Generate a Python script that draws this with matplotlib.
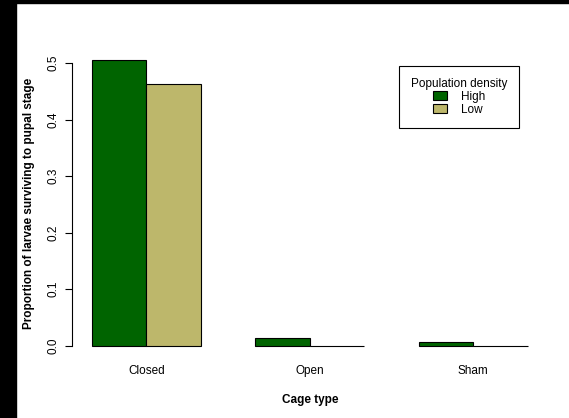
import matplotlib.pyplot as plt
from matplotlib.patches import Rectangle
import numpy as np

# --- Data ---
cages = ['Closed', 'Open', 'Sham']
densities = ['High', 'Low']
high_vals = [0.505, 0.014, 0.007]
low_vals = [0.463, 0.0, 0.0]
bar_colors = ['#006400', '#BDB76B']
y_ticks = [0.0, 0.1, 0.2, 0.3, 0.4, 0.5]

plt.rcParams['font.family'] = ['Liberation Sans', 'DejaVu Sans']
plt.rcParams['font.size'] = 8.5

fig = plt.figure(figsize=(5.69, 4.18), dpi=100)
ax = fig.add_axes([0.131, 0.146, 0.827, 0.737])

# R-style beside barplot: bar width 1, group spacing 1
pos = np.arange(len(cages)) * 3 + 1
ax.bar(pos + 0.5, high_vals, width=1, color=bar_colors[0], edgecolor='black', linewidth=0.8, label=densities[0])
ax.bar(pos + 1.5, low_vals, width=1, color=bar_colors[1], edgecolor='black', linewidth=0.8, label=densities[1])

ax.set_xlim(0.68, 9.32)
ymax = max(high_vals + low_vals)
ax.set_ylim(-0.04 * ymax, ymax * 1.04)

for s in ['top', 'right', 'bottom']: ax.spines[s].set_visible(False)
ax.spines['left'].set_bounds(0, 0.5)
ax.spines['left'].set_position(('outward', 2))
ax.set_yticks(y_ticks)
ax.set_yticklabels([f'{v:.1f}' for v in y_ticks], rotation=90, va='center')
ax.tick_params(axis='y', length=5, pad=4)
ax.set_xticks(pos + 1)
ax.set_xticklabels(cages)
ax.tick_params(axis='x', length=0, pad=6)
ax.set_xlabel('Cage type', fontweight='bold', labelpad=12)
ax.set_ylabel('Proportion of larvae surviving to pupal stage', fontweight='bold', labelpad=9)

leg = ax.legend(title='Population density', loc='upper left', bbox_to_anchor=(0.69, 0.945),
                fancybox=False, edgecolor='black', framealpha=1, handlelength=1.2, handleheight=0.8,
                borderpad=1.0, labelspacing=0.1, handletextpad=1.2, borderaxespad=0, title_fontsize=8.5)
leg.get_frame().set_linewidth(0.8)

# black strips along top and left edges of the image
fig.add_artist(Rectangle((0, 0), 16 / 569, 1, transform=fig.transFigure, color='black'))
fig.add_artist(Rectangle((0, 1 - 3 / 418), 1, 3 / 418, transform=fig.transFigure, color='black'))

plt.savefig('out.png', dpi=100)
